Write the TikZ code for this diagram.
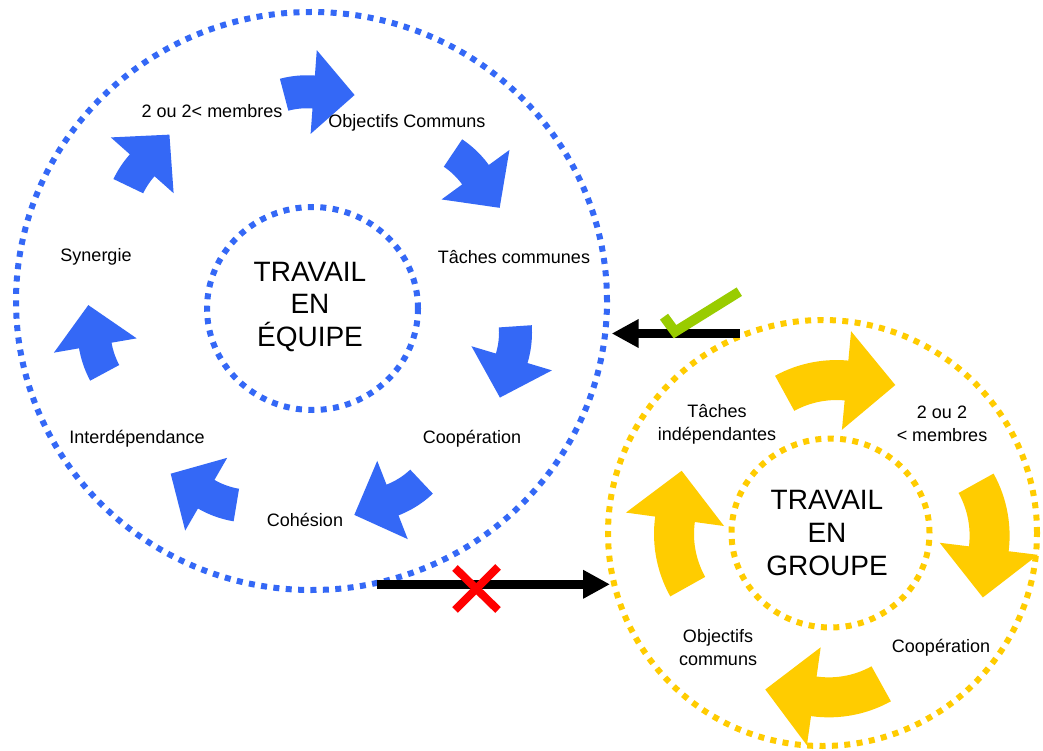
\documentclass[tikz,border=0pt]{standalone}
\usepackage{fontspec}
\setmainfont{Liberation Sans}
\usetikzlibrary{arrows.meta,shapes.geometric}

\definecolor{teamblue}{RGB}{52,104,246}
\definecolor{groupgold}{RGB}{255,204,0}
\definecolor{okgreen}{RGB}{153,204,0}
\definecolor{nored}{RGB}{255,0,0}

% Curved block arrow along a circular arc.
% #1 fill, #2/#3 middle of the head base, #4 heading at the head (deg),
% #5 bend of the shaft (deg), #6 radius of the shaft, #7 shaft width,
% #8 head width, #9 head length
\newcommand{\bendarrow}[9]{%
  \pgfmathsetmacro\baCx{#2+#6*cos(#4+90)}%
  \pgfmathsetmacro\baCy{#3+#6*sin(#4+90)}%
  \pgfmathsetmacro\baEnd{#4-90}%
  \pgfmathsetmacro\baStart{#4-90-#5}%
  \pgfmathsetmacro\baRo{#6+#7/2}%
  \pgfmathsetmacro\baRi{#6-#7/2}%
  \pgfmathsetmacro\baHo{#6+#8/2}%
  \pgfmathsetmacro\baHi{#6-#8/2}%
  \fill[#1] plot[domain=\baStart:\baEnd,samples=16] ({\baCx+\baRo*cos(\x)},{\baCy+\baRo*sin(\x)})
    -- ({\baCx+\baHo*cos(\baEnd)},{\baCy+\baHo*sin(\baEnd)})
    -- ({#2+#9*cos(#4)},{#3+#9*sin(#4)})
    -- ({\baCx+\baHi*cos(\baEnd)},{\baCy+\baHi*sin(\baEnd)})
    -- plot[domain=\baEnd:\baStart,samples=16] ({\baCx+\baRi*cos(\x)},{\baCy+\baRi*sin(\x)})
    -- cycle;}
\newcommand{\teamarrow}[4]{\bendarrow{teamblue}{#1}{#2}{#3}{#4}{90}{33}{84}{41}}
\newcommand{\grouparrow}[4]{\bendarrow{groupgold}{#1}{#2}{#3}{#4}{108}{40}{99}{49}}

\tikzset{
  ring/.style={ellipse, draw=#1, line width=6pt, dash pattern=on 6pt off 6.4pt,
               inner sep=0pt, outer sep=0pt},
  lbl/.style={align=center, font=\fontsize{18}{23}\selectfont, inner sep=0pt},
  title/.style={align=center, font=\fontsize{28}{32.5}\selectfont, inner sep=0pt},
  link/.style={line width=9pt, -{Triangle[length=27pt,width=27pt]}},
  tick/.style={okgreen, line width=10pt},
  cross/.style={nored, line width=8pt}
}

\begin{document}
\begin{tikzpicture}[x=1pt,y=-1pt]
\useasboundingbox (0,0) rectangle (1043,751);
\fill[white] (0,0) rectangle (1043,751);

% team work: rings
\node[ring=teamblue, minimum width=591pt, minimum height=578pt] (teamring) at (311.5,301) {};
\node[ring=teamblue, minimum width=211pt, minimum height=203pt] (teamcore) at (312.5,308.5) {};

% group work: rings
\node[ring=groupgold, minimum width=429pt, minimum height=426pt] (groupring) at (822.5,533) {};
\node[ring=groupgold, minimum width=198pt, minimum height=189pt] (groupcore) at (830.5,533) {};

% team work: cycle of arrows
\teamarrow{313.7}{92}{4.2}{19}
\teamarrow{475.5}{174.7}{53.9}{20}
\teamarrow{511.7}{358.3}{106.7}{20.6}
\teamarrow{392.5}{500}{158.7}{22}
\teamarrow{206.2}{494.2}{210}{20.5}
\teamarrow{95.3}{345.5}{260.2}{18.5}
\teamarrow{142.2}{165.3}{311.6}{16}

% group work: cycle of arrows
\grouparrow{846.5}{380.5}{5.3}{34}
\grouparrow{988.8}{548.8}{97}{36}
\grouparrow{813.8}{696.3}{188}{37}
\grouparrow{675}{519.3}{277.8}{37}

% team work: labels
\node[title] (teamtitle) at (310,307) {TRAVAIL\\EN\\ÉQUIPE};
\node[lbl] (tmembers) at (212,111) {2 ou 2< membres};
\node[lbl] (tgoals) at (407,123) {Objectifs Communs};
\node[lbl] (ttasks) at (514,257) {Tâches communes};
\node[lbl] (tcoop) at (472,439) {Coopération};
\node[lbl] (tcohesion) at (305,519.5) {Cohésion};
\node[lbl] (tinter) at (137,439) {Interdépendance};
\node[lbl] (tsynergy) at (96,257) {Synergie};

% group work: labels
\node[title] (grouptitle) at (827,533) {TRAVAIL\\EN\\GROUPE};
\node[lbl] (gtasks) at (717,424) {Tâches\\indépendantes};
\node[lbl] (gmembers) at (942,424) {2 ou 2\\< membres};
\node[lbl] (gcoop) at (941,648) {Coopération};
\node[lbl] (ggoals) at (718,648) {Objectifs\\communs};

% links between the two rings
\coordinate (groupout) at (740,333.5);
\coordinate (teamin) at (611.7,333.5);
\coordinate (teamout) at (376.7,584.3);
\coordinate (groupin) at (610,584.3);
\draw[link] (groupout) -- (teamin);
\draw[link] (teamout) -- (groupin);

% valid / invalid marks
\draw[tick] (664,316.7) -- (675,331.7) -- (739.3,291.7);
\draw[cross] (455,568) -- (498,610);
\draw[cross] (498,567) -- (455,610);
\end{tikzpicture}
\end{document}
